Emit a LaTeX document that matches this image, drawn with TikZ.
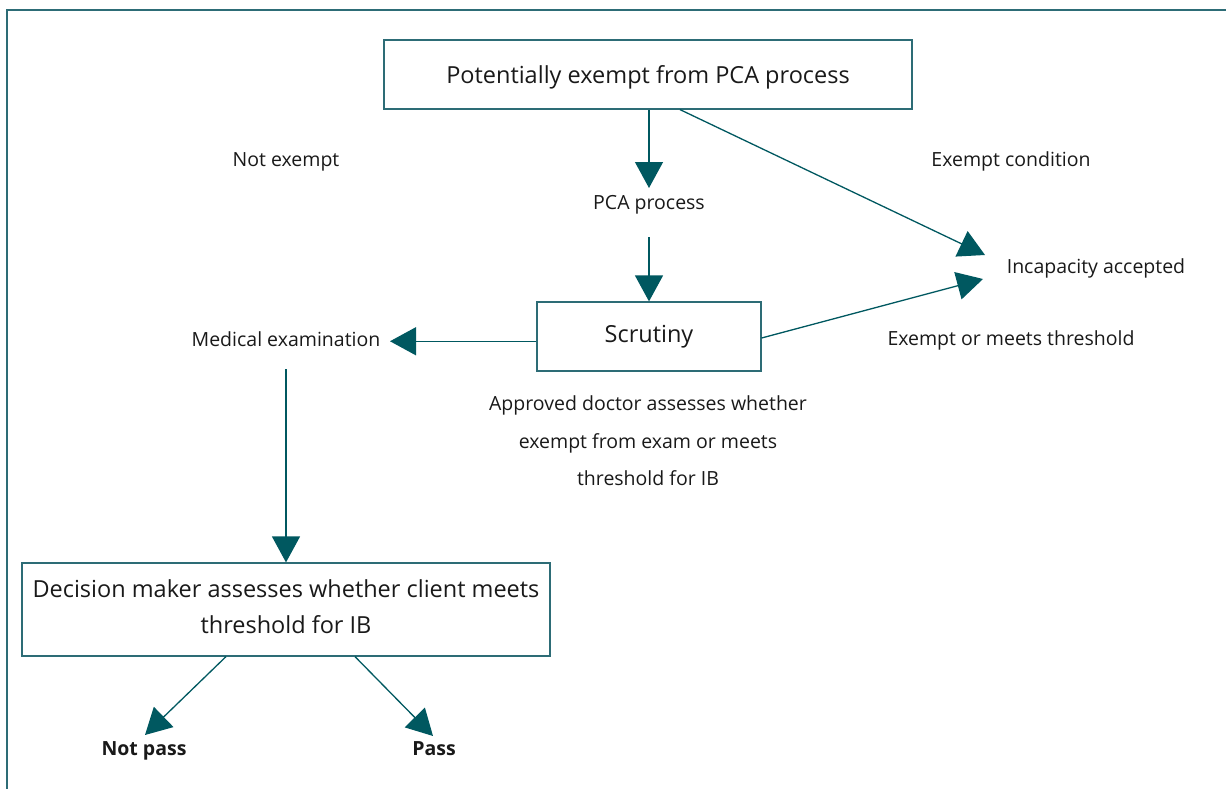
\documentclass[tikz,border=0pt]{standalone}
\usepackage{fontspec}
\setmainfont{Open Sans}
\usetikzlibrary{arrows.meta,positioning}
\definecolor{pcateal}{RGB}{0,88,96}
\definecolor{frameteal}{RGB}{45,108,118}
\definecolor{inkgrey}{RGB}{25,25,25}

\begin{document}
\begin{tikzpicture}[x=1pt, y=-1pt,
    box/.style={rectangle, draw=frameteal, line width=1.2pt, inner sep=0pt,
        align=center, text=inkgrey, font=\fontsize{23.5}{36}\selectfont},
    lbl/.style={align=center, inner sep=0pt, text=inkgrey,
        text height=14pt, text depth=4.5pt,
        font=\fontsize{19.5}{37.5}\selectfont},
    result/.style={lbl, font=\fontsize{19.5}{24}\selectfont\bfseries},
    arrow/.style={-{Triangle[length=26pt, width=28pt]}, line width=1.3pt, pcateal}
]
    \useasboundingbox (0,0) rectangle (1226,789);
    % outer frame
    \draw[frameteal, line width=1.8pt] (1226,10) -- (7,10) -- (7,789);

    % boxes
    \node[box, minimum width=528pt, minimum height=69pt,
        text height=19.5pt, text depth=2pt] (top) at (648,74.5)
        {Potentially exempt from PCA process};
    \node[box, minimum width=224pt, minimum height=69pt] (scrutiny) at (649,336.5)
        {Scrutiny};
    \node[box, minimum width=528pt, minimum height=93pt,
        text height=49pt] (decision) at (286,609.5)
        {Decision maker assesses whether client meets\\threshold for IB};

    % labels
    \node[lbl] (notexempt) at (286,162) {Not exempt};
    \node[lbl] (pca) at (649,204.25) {PCA process};
    \node[lbl] (exemptcond) at (1011,162) {Exempt condition};
    \node[lbl] (incap) at (1096,268.25) {Incapacity accepted};
    \node[lbl] (meets) at (1011,341) {Exempt or meets threshold};
    \node[lbl] (medical) at (286,341.25) {Medical examination};
    \node[lbl, text height=, text depth=] (approved) at (648,441)
        {Approved doctor assesses whether\\exempt from exam or meets\\threshold for IB};
    \node[result] (notpass) at (144,750.25) {Not pass};
    \node[result] (pass) at (434,750.25) {Pass};

    % connectors
    \draw[arrow] (pca.center |- top.south) -- ([yshift=16.25pt]pca.center);
    \draw[arrow] ([yshift=-32.75pt]pca.center) -- (scrutiny.north);
    \draw[arrow] (scrutiny.west |- medical.center) -- ([xshift=104pt]medical.center);
    \draw[arrow] ([yshift=-27.75pt]medical.center) -- (decision.north);
    \draw[arrow] ([xshift=32pt]top.south) -- ([xshift=-111pt, yshift=13.25pt]incap.center);
    \draw[arrow] ([yshift=-1.5pt]scrutiny.east) -- ([xshift=-113pt, yshift=-10.75pt]incap.center);
    \draw[arrow] ([xshift=-60pt]decision.south) -- ([xshift=1pt, yshift=15.25pt]notpass.center);
    \draw[arrow] ([xshift=69pt]decision.south) -- ([xshift=-1pt, yshift=14.25pt]pass.center);
\end{tikzpicture}
\end{document}
